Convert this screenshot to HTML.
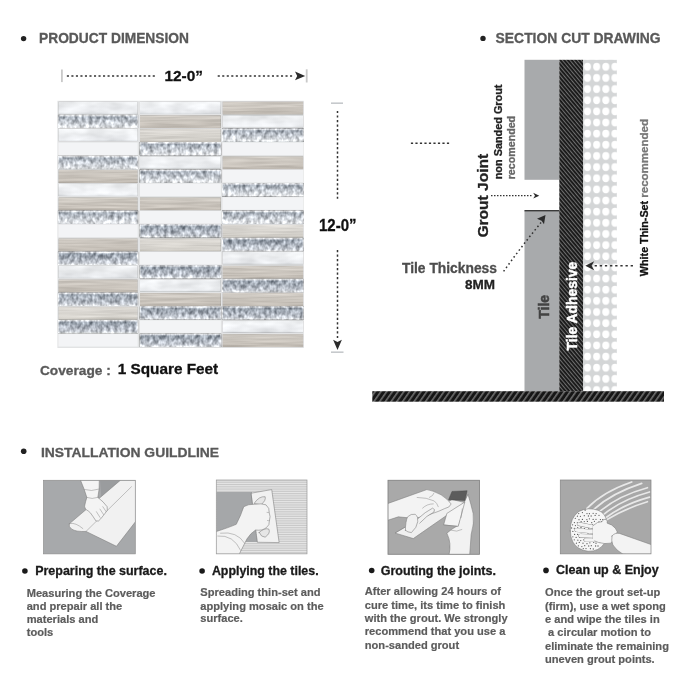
<!DOCTYPE html>
<html lang="en"><head><meta charset="utf-8"><title>Product Dimension &amp; Installation Guideline</title>
<style>html,body{margin:0;padding:0;background:#fff;}svg{display:block;will-change:transform;font-family:'Liberation Sans', sans-serif;}</style></head><body>
<svg width="700" height="700" viewBox="0 0 700 700">
<defs>
<pattern id="hatchA" width="2.9" height="8" patternUnits="userSpaceOnUse" patternTransform="rotate(-40)"><rect width="2.9" height="8" fill="#161616"/><rect x="0" width="1.1" height="8" fill="#6e6e6e"/></pattern>
<pattern id="hatchF" width="4.7" height="8" patternUnits="userSpaceOnUse" patternTransform="rotate(35)"><rect width="4.7" height="8" fill="#161616"/><rect x="0" width="1.6" height="8" fill="#6e6e6e"/></pattern>
<pattern id="dots" x="582.9" y="61.23" width="9.17" height="11.146" patternUnits="userSpaceOnUse"><rect width="9.17" height="11.146" fill="#d4d6d7"/><ellipse cx="4.58" cy="5.57" rx="3.55" ry="3.85" fill="#fff"/></pattern>
</defs>
<rect width="700" height="700" fill="#fff"/>
<circle cx="23.6" cy="38.6" r="2.7" fill="#222"/>
<text x="39" y="43" font-size="13.8" font-weight="bold" fill="#595959" stroke="#595959" stroke-width="0.3" textLength="150" lengthAdjust="spacingAndGlyphs">PRODUCT DIMENSION</text>
<circle cx="483" cy="38.4" r="2.7" fill="#222"/>
<text x="495.6" y="43" font-size="13.8" font-weight="bold" fill="#595959" stroke="#595959" stroke-width="0.3" textLength="165" lengthAdjust="spacingAndGlyphs">SECTION CUT DRAWING</text>
<circle cx="23.7" cy="451.2" r="2.8" fill="#222"/>
<text x="40.9" y="457.3" font-size="13.7" font-weight="bold" fill="#595959" stroke="#595959" stroke-width="0.3" textLength="178.2" lengthAdjust="spacingAndGlyphs">INSTALLATION GUILDLINE</text>
<rect x="61" y="69.5" width="1.8" height="12.6" fill="#c9c9c9"/>
<rect x="305.8" y="69.3" width="1.8" height="13.2" fill="#c9c9c9"/>
<line x1="66.85" y1="75.95" x2="155" y2="75.95" stroke="#333" stroke-width="1.5" stroke-dasharray="2.1 2.42"/>
<line x1="217.7" y1="75.95" x2="294.6" y2="75.95" stroke="#333" stroke-width="1.5" stroke-dasharray="2.1 2.42"/>
<path d="M305.2 75.9 L295 71.5 L297.2 75.9 L295 80.3 Z" fill="#2b2b2b"/>
<text x="164.5" y="80.6" font-size="15" font-weight="bold" fill="#111" stroke="#111" stroke-width="0.3" textLength="38.5" lengthAdjust="spacingAndGlyphs">12-0”</text>
<rect x="331" y="102.4" width="12" height="1.6" fill="#c6c9cc"/>
<rect x="331" y="351.4" width="12.5" height="1.6" fill="#c6c9cc"/>
<line x1="337.5" y1="110.9" x2="337.5" y2="198.8" stroke="#333" stroke-width="1.5" stroke-dasharray="2.2 2.32"/>
<line x1="337.5" y1="250" x2="337.5" y2="340" stroke="#333" stroke-width="1.5" stroke-dasharray="2.2 2.32"/>
<path d="M337.5 350 L333.1 339.8 L337.5 342 L341.9 339.8 Z" fill="#2b2b2b"/>
<text x="319" y="230.9" font-size="16" font-weight="bold" fill="#111" stroke="#111" stroke-width="0.3" textLength="37.5" lengthAdjust="spacingAndGlyphs">12-0”</text>
<text x="39.9" y="374.7" font-size="13.7" font-weight="bold" fill="#595959" stroke="#595959" stroke-width="0.3" textLength="70.9" lengthAdjust="spacingAndGlyphs">Coverage :</text>
<text x="117.7" y="374.2" font-size="15.3" font-weight="bold" fill="#111" stroke="#111" stroke-width="0.3" textLength="100.5" lengthAdjust="spacingAndGlyphs">1 Square Feet</text>
<defs>
<filter id="fG" filterUnits="userSpaceOnUse" x="56" y="99" width="250" height="252" color-interpolation-filters="sRGB"><feTurbulence type="fractalNoise" baseFrequency="0.28 0.2" numOctaves="2" seed="11" result="n"/><feColorMatrix in="n" type="matrix" values="1 0 0 0 0  1 0 0 0 0  1 0 0 0 0  0 0 0 0 1" result="g"/><feComposite in="SourceGraphic" in2="g" operator="arithmetic" k1="0" k2="1" k3="0.72" k4="-0.37" result="c"/><feComposite in="c" in2="SourceGraphic" operator="in"/></filter>
<filter id="fW" filterUnits="userSpaceOnUse" x="56" y="99" width="250" height="252" color-interpolation-filters="sRGB"><feTurbulence type="fractalNoise" baseFrequency="0.035 0.09" numOctaves="3" seed="5" result="n"/><feColorMatrix in="n" type="matrix" values="1 0 0 0 0  1 0 0 0 0  1 0 0 0 0  0 0 0 0 1" result="g"/><feComposite in="SourceGraphic" in2="g" operator="arithmetic" k1="0" k2="1" k3="0.22" k4="-0.115" result="c"/><feComposite in="c" in2="SourceGraphic" operator="in"/></filter>
<filter id="fB" filterUnits="userSpaceOnUse" x="56" y="99" width="250" height="252" color-interpolation-filters="sRGB"><feTurbulence type="fractalNoise" baseFrequency="0.02 0.45" numOctaves="2" seed="9" result="n"/><feColorMatrix in="n" type="matrix" values="1 0 0 0 0  1 0 0 0 0  1 0 0 0 0  0 0 0 0 1" result="g"/><feComposite in="SourceGraphic" in2="g" operator="arithmetic" k1="0" k2="1" k3="0.2" k4="-0.10" result="c"/><feComposite in="c" in2="SourceGraphic" operator="in"/></filter>
<linearGradient id="gG1" x1="0" y1="0" x2="0" y2="1"><stop offset="0" stop-color="#e9ebee"/><stop offset="0.16" stop-color="#a4acb6"/><stop offset="0.42" stop-color="#bec4cc"/><stop offset="0.78" stop-color="#dadee3"/><stop offset="1" stop-color="#eceef1"/></linearGradient>
<linearGradient id="gG2" x1="0" y1="0" x2="0" y2="1"><stop offset="0" stop-color="#dcdfe4"/><stop offset="0.16" stop-color="#9aa3ae"/><stop offset="0.5" stop-color="#acb3bd"/><stop offset="0.85" stop-color="#c6cbd3"/><stop offset="1" stop-color="#e0e3e7"/></linearGradient>
<linearGradient id="gB" x1="0" y1="0" x2="0" y2="1"><stop offset="0" stop-color="#cfcac3"/><stop offset="0.8" stop-color="#c7c1b9"/><stop offset="1" stop-color="#b8b2aa"/></linearGradient>
<linearGradient id="gb" x1="0" y1="0" x2="0" y2="1"><stop offset="0" stop-color="#dbd8d3"/><stop offset="0.8" stop-color="#d4d1cb"/><stop offset="1" stop-color="#c3bfb8"/></linearGradient>
<linearGradient id="gW" x1="0" y1="0" x2="0" y2="1"><stop offset="0" stop-color="#f1f3f5"/><stop offset="0.85" stop-color="#eceef1"/><stop offset="1" stop-color="#d9dcdf"/></linearGradient>
</defs>
<g id="mosaic">
<rect x="57.4" y="100.8" width="246.4" height="247.2" fill="#e2e3e4"/>
<g><rect x="58.4" y="142.54" width="79.3" height="12.5" fill="#f3f4f6"/><rect x="58.4" y="224.62" width="79.3" height="12.5" fill="#f3f4f6"/><rect x="58.4" y="334.06" width="79.3" height="12.5" fill="#f3f4f6"/><rect x="140.0" y="183.58" width="80.9" height="12.5" fill="#f3f4f6"/><rect x="140.0" y="210.94" width="80.9" height="12.5" fill="#f3f4f6"/><rect x="140.0" y="251.98" width="80.9" height="12.5" fill="#f3f4f6"/><rect x="140.0" y="320.38" width="80.9" height="12.5" fill="#f3f4f6"/><rect x="222.5" y="142.54" width="80.8" height="12.5" fill="#f3f4f6"/><rect x="222.5" y="169.90" width="80.8" height="12.5" fill="#f3f4f6"/><rect x="222.5" y="197.26" width="80.8" height="12.5" fill="#f3f4f6"/></g>
<g filter="url(#fW)"><rect x="58.4" y="101.50" width="79.3" height="12.5" fill="url(#gW)"/><rect x="58.4" y="128.86" width="79.3" height="12.5" fill="url(#gW)"/><rect x="58.4" y="183.58" width="79.3" height="12.5" fill="url(#gW)"/><rect x="58.4" y="265.66" width="79.3" height="12.5" fill="url(#gW)"/><rect x="140.0" y="101.50" width="80.9" height="12.5" fill="url(#gW)"/><rect x="140.0" y="156.22" width="80.9" height="12.5" fill="url(#gW)"/><rect x="140.0" y="279.34" width="80.9" height="12.5" fill="url(#gW)"/><rect x="222.5" y="115.18" width="80.8" height="12.5" fill="url(#gW)"/><rect x="222.5" y="251.98" width="80.8" height="12.5" fill="url(#gW)"/><rect x="222.5" y="320.38" width="80.8" height="12.5" fill="url(#gW)"/></g>
<g filter="url(#fB)"><rect x="58.4" y="169.90" width="79.3" height="13.1" fill="url(#gB)"/><rect x="58.4" y="197.26" width="79.3" height="13.1" fill="url(#gB)"/><rect x="58.4" y="238.30" width="79.3" height="13.1" fill="url(#gB)"/><rect x="58.4" y="279.34" width="79.3" height="13.1" fill="url(#gB)"/><rect x="58.4" y="306.70" width="79.3" height="13.1" fill="url(#gb)"/><rect x="140.0" y="115.18" width="80.9" height="13.1" fill="url(#gB)"/><rect x="140.0" y="128.86" width="80.9" height="13.1" fill="url(#gb)"/><rect x="140.0" y="197.26" width="80.9" height="13.1" fill="url(#gB)"/><rect x="140.0" y="238.30" width="80.9" height="13.1" fill="url(#gb)"/><rect x="140.0" y="293.02" width="80.9" height="13.1" fill="url(#gB)"/><rect x="222.5" y="101.50" width="80.8" height="13.1" fill="url(#gB)"/><rect x="222.5" y="156.22" width="80.8" height="13.1" fill="url(#gB)"/><rect x="222.5" y="224.62" width="80.8" height="13.1" fill="url(#gb)"/><rect x="222.5" y="265.66" width="80.8" height="13.1" fill="url(#gB)"/><rect x="222.5" y="293.02" width="80.8" height="13.1" fill="url(#gB)"/><rect x="222.5" y="334.06" width="80.8" height="13.1" fill="url(#gB)"/></g>
<g filter="url(#fG)"><rect x="58.4" y="115.18" width="79.3" height="12.5" fill="url(#gG1)" stroke="#e4e7ea" stroke-width="1"/><rect x="58.4" y="156.22" width="79.3" height="12.5" fill="url(#gG1)" stroke="#e4e7ea" stroke-width="1"/><rect x="58.4" y="210.94" width="79.3" height="12.5" fill="url(#gG1)" stroke="#e4e7ea" stroke-width="1"/><rect x="58.4" y="251.98" width="79.3" height="12.5" fill="url(#gG2)" stroke="#e4e7ea" stroke-width="1"/><rect x="58.4" y="293.02" width="79.3" height="12.5" fill="url(#gG2)" stroke="#e4e7ea" stroke-width="1"/><rect x="58.4" y="320.38" width="79.3" height="12.5" fill="url(#gG2)" stroke="#e4e7ea" stroke-width="1"/><rect x="140.0" y="142.54" width="80.9" height="12.5" fill="url(#gG1)" stroke="#e4e7ea" stroke-width="1"/><rect x="140.0" y="169.90" width="80.9" height="12.5" fill="url(#gG1)" stroke="#e4e7ea" stroke-width="1"/><rect x="140.0" y="224.62" width="80.9" height="12.5" fill="url(#gG2)" stroke="#e4e7ea" stroke-width="1"/><rect x="140.0" y="265.66" width="80.9" height="12.5" fill="url(#gG2)" stroke="#e4e7ea" stroke-width="1"/><rect x="140.0" y="306.70" width="80.9" height="12.5" fill="url(#gG2)" stroke="#e4e7ea" stroke-width="1"/><rect x="140.0" y="334.06" width="80.9" height="12.5" fill="url(#gG2)" stroke="#e4e7ea" stroke-width="1"/><rect x="222.5" y="128.86" width="80.8" height="12.5" fill="url(#gG1)" stroke="#e4e7ea" stroke-width="1"/><rect x="222.5" y="183.58" width="80.8" height="12.5" fill="url(#gG1)" stroke="#e4e7ea" stroke-width="1"/><rect x="222.5" y="210.94" width="80.8" height="12.5" fill="url(#gG1)" stroke="#e4e7ea" stroke-width="1"/><rect x="222.5" y="238.30" width="80.8" height="12.5" fill="url(#gG2)" stroke="#e4e7ea" stroke-width="1"/><rect x="222.5" y="279.34" width="80.8" height="12.5" fill="url(#gG2)" stroke="#e4e7ea" stroke-width="1"/><rect x="222.5" y="306.70" width="80.8" height="12.5" fill="url(#gG2)" stroke="#e4e7ea" stroke-width="1"/></g>
</g>
<g id="section">
<rect x="524.5" y="59.8" width="34.9" height="120" fill="#a8aaac"/>
<rect x="524.5" y="210.4" width="35" height="180.6" fill="#a8aaac"/>
<rect x="524.5" y="210" width="35" height="1.4" fill="#3a3a3a"/>
<rect x="559.3" y="59.8" width="23.7" height="331.4" fill="url(#hatchA)"/>
<rect x="583" y="59.8" width="33.8" height="331.1" fill="url(#dots)"/>
<rect x="372.3" y="391.2" width="291.7" height="10.5" fill="url(#hatchF)"/>
<line x1="410.9" y1="143.2" x2="449.4" y2="143.2" stroke="#333" stroke-width="1.5" stroke-dasharray="2.2 2.3"/>
<line x1="491" y1="195.7" x2="533" y2="195.7" stroke="#333" stroke-width="1.3" stroke-dasharray="1.5 1.5"/>
<path d="M539.3 195.7 L533.2 192.8 L535 195.7 L533.2 198.6 Z" fill="#2b2b2b"/>
<path d="M503.6 271.4 Q521 247 541 222.6" fill="none" stroke="#333" stroke-width="1.5" stroke-dasharray="1.6 2.7"/>
<path d="M545.5 215.1 L537.0 218.8 L541.6 220.8 L544.0 224.2 Z" fill="#2b2b2b"/>
<line x1="594.6" y1="265.7" x2="634" y2="265.7" stroke="#333" stroke-width="1.4" stroke-dasharray="2.3 2.85"/>
<path d="M585.3 265.7 L594.2 261.2 L591.6 265.7 L594.2 270.2 Z" fill="#2b2b2b"/>
<text transform="translate(488.0 237.6) rotate(-90)" font-size="15.3" font-weight="bold" fill="#222" stroke="#222" stroke-width="0.3" textLength="83.8" lengthAdjust="spacingAndGlyphs">Grout Joint</text>
<text transform="translate(502.2 179.3) rotate(-90)" font-size="10.9" font-weight="bold" fill="#222" stroke="#222" stroke-width="0.3" textLength="94.8" lengthAdjust="spacingAndGlyphs">non Sanded Grout</text>
<text transform="translate(515.4 179.3) rotate(-90)" font-size="10.6" font-weight="bold" fill="#666" stroke="#666" stroke-width="0.3" textLength="63.4" lengthAdjust="spacingAndGlyphs">recomended</text>
<text x="402" y="273" font-size="13.8" font-weight="bold" fill="#4d4d4d" stroke="#4d4d4d" stroke-width="0.3" textLength="95" lengthAdjust="spacingAndGlyphs">Tile Thickness</text>
<text x="465" y="289" font-size="13.5" font-weight="bold" fill="#222" stroke="#222" stroke-width="0.3" textLength="30" lengthAdjust="spacingAndGlyphs">8MM</text>
<text transform="translate(548.8 318.8) rotate(-90)" font-size="14" font-weight="bold" fill="#434343" stroke="#434343" stroke-width="0.55" textLength="24" lengthAdjust="spacingAndGlyphs">Tile</text>
<text transform="translate(576.9 350.4) rotate(-90)" font-size="13.8" font-weight="bold" fill="#fff" stroke="#fff" stroke-width="0.5" textLength="88.6" lengthAdjust="spacingAndGlyphs">Tile Adhesive</text>
<text transform="translate(647.5 276.2) rotate(-90)" font-size="10.9" font-weight="bold" fill="#111" stroke="#111" stroke-width="0.3" textLength="75.4" lengthAdjust="spacingAndGlyphs">White Thin-Set</text>
<text transform="translate(647.5 197.7) rotate(-90)" font-size="10.9" font-weight="bold" fill="#777" stroke="#777" stroke-width="0.3" textLength="78.7" lengthAdjust="spacingAndGlyphs">recommended</text>
</g>
<g id="img1" transform="translate(40 476) scale(0.142857)">
<rect x="25" y="30" width="642" height="515" fill="#a7a9ab"/>
<clipPath id="c1"><rect x="25" y="30" width="642" height="515"/></clipPath>
<g clip-path="url(#c1)">
<path d="M420 30 L565 30 L430 150 Z" fill="#9a9c9e"/>
<path d="M205 335 L565 28 L680 28 L680 305 L535 492 L322 388 Q255 392 222 372 Q198 355 205 335 Z" fill="#f1f1f1" stroke="#7d7d7d" stroke-width="4" stroke-linejoin="round" stroke-linecap="round"/>
<path d="M322 388 L640 75" fill="none" stroke="#8a8a8a" stroke-width="3.5" stroke-linecap="round" stroke-linejoin="round"/>
<path d="M212 332 Q250 325 300 368" fill="none" stroke="#8a8a8a" stroke-width="3.5" stroke-linecap="round" stroke-linejoin="round"/>
<path d="M283 28 L415 28 Q418 90 405 150 Q445 180 470 215 Q480 240 455 262 L425 300 Q410 322 392 315 L372 285 Q350 250 338 245 Q312 235 312 212 Q318 180 328 150 Q310 90 283 28 Z" fill="#f4f4f4" stroke="#7d7d7d" stroke-width="4" stroke-linejoin="round" stroke-linecap="round"/>
<path d="M312 95 Q360 110 412 92" fill="none" stroke="#8a8a8a" stroke-width="3.5" stroke-linecap="round" stroke-linejoin="round"/><path d="M326 150 Q365 165 405 150" fill="none" stroke="#8a8a8a" stroke-width="3.5" stroke-linecap="round" stroke-linejoin="round"/>
<path d="M395 250 L420 290" fill="none" stroke="#8a8a8a" stroke-width="3.5" stroke-linecap="round" stroke-linejoin="round"/><path d="M420 232 L445 270" fill="none" stroke="#8a8a8a" stroke-width="3.5" stroke-linecap="round" stroke-linejoin="round"/><path d="M440 215 L462 248" fill="none" stroke="#8a8a8a" stroke-width="3.5" stroke-linecap="round" stroke-linejoin="round"/>
</g>
<rect x="25" y="30" width="642" height="515" fill="none" stroke="#8e8e8e" stroke-width="5"/>
</g>
<g id="img2" transform="translate(212 476) scale(0.142857)">
<defs><pattern id="comb" width="20" height="12.5" patternUnits="userSpaceOnUse"><rect width="20" height="12.5" fill="#e6e6e6"/><rect y="7.5" width="20" height="5" fill="#bfbfbf"/></pattern></defs>
<rect x="30" y="28" width="635" height="517" fill="url(#comb)"/>
<clipPath id="c2"><rect x="30" y="28" width="635" height="517"/></clipPath>
<g clip-path="url(#c2)">
<path d="M30 112 L280 112 L300 330 L318 462 L210 462 L235 395 Q150 350 30 388 Z" fill="#a5a7a9"/>
<path d="M276 120 L418 95 L470 466 L320 464 Z" fill="#f1f1f1" stroke="#7d7d7d" stroke-width="4" stroke-linejoin="round" stroke-linecap="round"/>
<path d="M296 190 Q330 140 372 145 Q380 170 345 200 Z" fill="#e6e6e6" stroke="#7d7d7d" stroke-width="4" stroke-linejoin="round" stroke-linecap="round"/>
<path d="M330 395 Q370 360 398 372 Q412 400 372 428 Q345 430 330 395 Z" fill="#e6e6e6" stroke="#7d7d7d" stroke-width="4" stroke-linejoin="round" stroke-linecap="round"/>
<path d="M20 392 Q120 360 170 338 Q205 270 222 215 Q255 195 300 198 Q345 190 378 202 Q405 225 400 255 Q412 285 402 312 Q405 345 380 362 Q350 385 305 378 Q270 400 245 440 L190 548 L20 548 Z" fill="#f3f3f3" stroke="#7d7d7d" stroke-width="4" stroke-linejoin="round" stroke-linecap="round"/>
<path d="M40 420 Q150 410 200 520" fill="none" stroke="#8a8a8a" stroke-width="3.5" stroke-linecap="round" stroke-linejoin="round"/><path d="M60 400 Q175 385 228 470" fill="none" stroke="#8a8a8a" stroke-width="3.5" stroke-linecap="round" stroke-linejoin="round"/>
<path d="M385 255 Q398 258 400 255" fill="none" stroke="#8a8a8a" stroke-width="3.5" stroke-linecap="round" stroke-linejoin="round"/><path d="M388 312 Q398 314 402 312" fill="none" stroke="#8a8a8a" stroke-width="3.5" stroke-linecap="round" stroke-linejoin="round"/>
</g>
<rect x="30" y="28" width="635" height="517" fill="none" stroke="#9a9a9a" stroke-width="5"/>
</g>
<g id="img3" transform="translate(384 476) scale(0.142857)">
<rect x="28" y="30" width="640" height="518" fill="#a9a9a9"/>
<clipPath id="c3"><rect x="28" y="30" width="640" height="518"/></clipPath>
<g clip-path="url(#c3)">
<path d="M80 400 L205 438 L568 186 L478 165 Z" fill="#f0f0f0" stroke="#7d7d7d" stroke-width="4" stroke-linejoin="round" stroke-linecap="round"/>
<path d="M455 552 Q475 470 440 400 Q470 372 520 345 L548 215 L588 128 Q610 200 624 262 Q634 330 610 410 L600 552 Z" fill="#f2f2f2" stroke="#7d7d7d" stroke-width="4" stroke-linejoin="round" stroke-linecap="round"/>
<path d="M418 340 L440 262 L566 182 L520 350 Z" fill="#f4f4f4" stroke="#7d7d7d" stroke-width="4" stroke-linejoin="round" stroke-linecap="round"/>
<path d="M452 166 L476 108 L582 103 L566 172 Z" fill="#5c5c5c" stroke="#444" stroke-width="3"/>
<path d="M20 195 L300 95 Q340 100 400 132 Q450 165 470 196 Q460 222 425 228 Q380 250 340 262 Q290 285 235 292 Q170 296 100 286 L20 312 Z" fill="#f3f3f3" stroke="#7d7d7d" stroke-width="4" stroke-linejoin="round" stroke-linecap="round"/>
<path d="M150 380 Q150 320 165 286 Q190 262 218 268 Q242 285 236 320 Q232 360 192 396 Q165 395 150 380 Z" fill="#f1f1f1" stroke="#7d7d7d" stroke-width="4" stroke-linejoin="round" stroke-linecap="round"/>
<path d="M236 300 Q290 250 340 225 Q362 232 350 252 Q300 275 250 330" fill="#f1f1f1" stroke="#7d7d7d" stroke-width="4" stroke-linejoin="round" stroke-linecap="round"/>
<path d="M232 150 Q300 150 352 175 Q372 190 380 215" fill="none" stroke="#8a8a8a" stroke-width="3.5" stroke-linecap="round" stroke-linejoin="round"/><path d="M318 150 Q345 140 350 120" fill="none" stroke="#8a8a8a" stroke-width="3.5" stroke-linecap="round" stroke-linejoin="round"/><path d="M270 225 Q300 195 345 195" fill="none" stroke="#8a8a8a" stroke-width="3.5" stroke-linecap="round" stroke-linejoin="round"/>
<path d="M470 380 Q510 395 545 375" fill="none" stroke="#8a8a8a" stroke-width="3.5" stroke-linecap="round" stroke-linejoin="round"/><path d="M548 230 L540 290" fill="none" stroke="#8a8a8a" stroke-width="3.5" stroke-linecap="round" stroke-linejoin="round"/>
</g>
<rect x="28" y="30" width="640" height="518" fill="none" stroke="#808080" stroke-width="6"/>
</g>
<g id="img4" transform="translate(556 476) scale(0.142857)">
<rect x="30" y="28" width="635" height="517" fill="#a8a8a8"/>
<clipPath id="c4"><rect x="30" y="28" width="635" height="517"/></clipPath>
<g clip-path="url(#c4)">
<path d="M215 228 Q330 110 530 42" fill="none" stroke="#e8e8e8" stroke-width="12" stroke-linecap="round"/>
<path d="M262 236 Q390 120 600 52" fill="none" stroke="#e8e8e8" stroke-width="12" stroke-linecap="round"/>
<path d="M305 250 Q430 140 640 82" fill="none" stroke="#e8e8e8" stroke-width="12" stroke-linecap="round"/>
<path d="M330 272 Q460 165 655 112" fill="none" stroke="#e8e8e8" stroke-width="12" stroke-linecap="round"/>
<path d="M348 292 Q480 195 655 148" fill="none" stroke="#e8e8e8" stroke-width="12" stroke-linecap="round"/>
<path d="M358 305 Q490 225 640 180" fill="none" stroke="#e8e8e8" stroke-width="12" stroke-linecap="round"/>
<path d="M100 385 Q96 295 160 248 Q225 215 295 240 Q350 262 354 320 Q350 400 340 470 Q300 530 225 527 Q150 518 118 462 Q100 425 100 385 Z" fill="#f6f6f6" stroke="#7d7d7d" stroke-width="4" stroke-linejoin="round" stroke-linecap="round"/>
<g fill="#5e5e5e"><circle cx="204" cy="239" r="4.6"/><circle cx="159" cy="263" r="4.6"/><circle cx="185" cy="256" r="4.6"/><circle cx="217" cy="263" r="4.6"/><circle cx="234" cy="264" r="4.6"/><circle cx="260" cy="261" r="4.6"/><circle cx="281" cy="263" r="4.6"/><circle cx="150" cy="281" r="4.6"/><circle cx="171" cy="282" r="4.6"/><circle cx="198" cy="278" r="4.6"/><circle cx="227" cy="280" r="4.6"/><circle cx="246" cy="280" r="4.6"/><circle cx="274" cy="276" r="4.6"/><circle cx="301" cy="275" r="4.6"/><circle cx="135" cy="296" r="4.6"/><circle cx="161" cy="306" r="4.6"/><circle cx="185" cy="304" r="4.6"/><circle cx="216" cy="305" r="4.6"/><circle cx="234" cy="300" r="4.6"/><circle cx="260" cy="304" r="4.6"/><circle cx="280" cy="303" r="4.6"/><circle cx="311" cy="305" r="4.6"/><circle cx="327" cy="305" r="4.6"/><circle cx="129" cy="326" r="4.6"/><circle cx="150" cy="326" r="4.6"/><circle cx="176" cy="320" r="4.6"/><circle cx="198" cy="319" r="4.6"/><circle cx="220" cy="318" r="4.6"/><circle cx="250" cy="327" r="4.6"/><circle cx="269" cy="317" r="4.6"/><circle cx="301" cy="322" r="4.6"/><circle cx="319" cy="319" r="4.6"/><circle cx="116" cy="342" r="4.6"/><circle cx="136" cy="347" r="4.6"/><circle cx="159" cy="343" r="4.6"/><circle cx="191" cy="339" r="4.6"/><circle cx="214" cy="347" r="4.6"/><circle cx="237" cy="346" r="4.6"/><circle cx="256" cy="342" r="4.6"/><circle cx="280" cy="346" r="4.6"/><circle cx="306" cy="343" r="4.6"/><circle cx="337" cy="347" r="4.6"/><circle cx="109" cy="364" r="4.6"/><circle cx="128" cy="366" r="4.6"/><circle cx="152" cy="362" r="4.6"/><circle cx="175" cy="360" r="4.6"/><circle cx="199" cy="369" r="4.6"/><circle cx="229" cy="365" r="4.6"/><circle cx="248" cy="362" r="4.6"/><circle cx="268" cy="362" r="4.6"/><circle cx="299" cy="368" r="4.6"/><circle cx="319" cy="367" r="4.6"/><circle cx="118" cy="388" r="4.6"/><circle cx="139" cy="387" r="4.6"/><circle cx="162" cy="385" r="4.6"/><circle cx="191" cy="387" r="4.6"/><circle cx="210" cy="389" r="4.6"/><circle cx="237" cy="386" r="4.6"/><circle cx="255" cy="385" r="4.6"/><circle cx="282" cy="387" r="4.6"/><circle cx="308" cy="388" r="4.6"/><circle cx="333" cy="388" r="4.6"/><circle cx="130" cy="409" r="4.6"/><circle cx="151" cy="409" r="4.6"/><circle cx="180" cy="408" r="4.6"/><circle cx="205" cy="411" r="4.6"/><circle cx="224" cy="406" r="4.6"/><circle cx="245" cy="409" r="4.6"/><circle cx="276" cy="406" r="4.6"/><circle cx="298" cy="408" r="4.6"/><circle cx="322" cy="403" r="4.6"/><circle cx="118" cy="426" r="4.6"/><circle cx="141" cy="430" r="4.6"/><circle cx="165" cy="429" r="4.6"/><circle cx="183" cy="424" r="4.6"/><circle cx="211" cy="429" r="4.6"/><circle cx="233" cy="429" r="4.6"/><circle cx="261" cy="422" r="4.6"/><circle cx="284" cy="424" r="4.6"/><circle cx="304" cy="423" r="4.6"/><circle cx="330" cy="424" r="4.6"/><circle cx="128" cy="447" r="4.6"/><circle cx="153" cy="449" r="4.6"/><circle cx="173" cy="452" r="4.6"/><circle cx="195" cy="447" r="4.6"/><circle cx="222" cy="447" r="4.6"/><circle cx="244" cy="451" r="4.6"/><circle cx="271" cy="443" r="4.6"/><circle cx="297" cy="444" r="4.6"/><circle cx="320" cy="446" r="4.6"/><circle cx="143" cy="470" r="4.6"/><circle cx="163" cy="465" r="4.6"/><circle cx="189" cy="470" r="4.6"/><circle cx="217" cy="474" r="4.6"/><circle cx="237" cy="468" r="4.6"/><circle cx="264" cy="464" r="4.6"/><circle cx="280" cy="470" r="4.6"/><circle cx="309" cy="465" r="4.6"/><circle cx="157" cy="489" r="4.6"/><circle cx="181" cy="494" r="4.6"/><circle cx="201" cy="488" r="4.6"/><circle cx="229" cy="490" r="4.6"/><circle cx="247" cy="488" r="4.6"/><circle cx="277" cy="490" r="4.6"/><circle cx="294" cy="490" r="4.6"/><circle cx="191" cy="508" r="4.6"/><circle cx="210" cy="508" r="4.6"/><circle cx="241" cy="509" r="4.6"/><circle cx="261" cy="511" r="4.6"/></g>
<path d="M285 362 L160 336" fill="none" stroke="#858585" stroke-width="29" stroke-linecap="round"/>
<path d="M285 362 L160 336" fill="none" stroke="#f4f4f4" stroke-width="23" stroke-linecap="round"/>
<path d="M280 392 L143 378" fill="none" stroke="#858585" stroke-width="29" stroke-linecap="round"/>
<path d="M280 392 L143 378" fill="none" stroke="#f4f4f4" stroke-width="23" stroke-linecap="round"/>
<path d="M285 422 L170 418" fill="none" stroke="#858585" stroke-width="29" stroke-linecap="round"/>
<path d="M285 422 L170 418" fill="none" stroke="#f4f4f4" stroke-width="23" stroke-linecap="round"/>
<path d="M290 448 L208 448" fill="none" stroke="#858585" stroke-width="29" stroke-linecap="round"/>
<path d="M290 448 L208 448" fill="none" stroke="#f4f4f4" stroke-width="23" stroke-linecap="round"/>
<path d="M262 345 Q290 318 322 320 Q332 296 350 304 Q364 312 358 330 Q392 338 415 365 Q435 390 425 408 Q405 440 385 470 Q340 478 300 466 Q262 458 260 440 Z" fill="#f4f4f4" stroke="#7d7d7d" stroke-width="4" stroke-linejoin="round" stroke-linecap="round"/>
<path d="M266 350 L266 452" stroke="#f4f4f4" stroke-width="14" fill="none"/>
<path d="M392 420 Q410 395 445 402 L680 485 L680 560 L470 548 Q420 520 398 482 Q385 450 392 420 Z" fill="#f3f3f3" stroke="#7d7d7d" stroke-width="4" stroke-linejoin="round" stroke-linecap="round"/>
</g>
<rect x="30" y="28" width="635" height="517" fill="none" stroke="#858585" stroke-width="5"/>
</g>
<circle cx="24.9" cy="571" r="2.8" fill="#1a1a1a"/>
<text x="35.2" y="575.1" font-size="12.5" font-weight="bold" fill="#1a1a1a" stroke="#1a1a1a" stroke-width="0.3" textLength="131.7" lengthAdjust="spacingAndGlyphs">Preparing the surface.</text>
<circle cx="202.1" cy="571" r="2.8" fill="#1a1a1a"/>
<text x="211.9" y="575" font-size="12.5" font-weight="bold" fill="#1a1a1a" stroke="#1a1a1a" stroke-width="0.3" textLength="106.7" lengthAdjust="spacingAndGlyphs">Applying the tiles.</text>
<circle cx="371.7" cy="570.5" r="2.8" fill="#1a1a1a"/>
<text x="380.7" y="574.8" font-size="12.5" font-weight="bold" fill="#1a1a1a" stroke="#1a1a1a" stroke-width="0.3" textLength="115.2" lengthAdjust="spacingAndGlyphs">Grouting the joints.</text>
<circle cx="546" cy="570.4" r="2.8" fill="#1a1a1a"/>
<text x="556" y="574.4" font-size="12.5" font-weight="bold" fill="#1a1a1a" stroke="#1a1a1a" stroke-width="0.3" textLength="102.7" lengthAdjust="spacingAndGlyphs">Clean up &amp; Enjoy</text>
<text x="26.7" y="596.9" font-size="11.1" font-weight="bold" fill="#5c5c5c" stroke="#5c5c5c" stroke-width="0.2" xml:space="preserve">Measuring the Coverage</text>
<text x="26.7" y="610.3" font-size="11.1" font-weight="bold" fill="#5c5c5c" stroke="#5c5c5c" stroke-width="0.2" xml:space="preserve">and prepair all the</text>
<text x="26.7" y="623.1" font-size="11.1" font-weight="bold" fill="#5c5c5c" stroke="#5c5c5c" stroke-width="0.2" xml:space="preserve">materials and</text>
<text x="26.7" y="636" font-size="11.1" font-weight="bold" fill="#5c5c5c" stroke="#5c5c5c" stroke-width="0.2" xml:space="preserve">tools</text>
<text x="200.3" y="596.1" font-size="11.1" font-weight="bold" fill="#5c5c5c" stroke="#5c5c5c" stroke-width="0.2" xml:space="preserve">Spreading thin-set and</text>
<text x="200.3" y="609.5" font-size="11.1" font-weight="bold" fill="#5c5c5c" stroke="#5c5c5c" stroke-width="0.2" xml:space="preserve">applying mosaic on the</text>
<text x="200.3" y="622.4" font-size="11.1" font-weight="bold" fill="#5c5c5c" stroke="#5c5c5c" stroke-width="0.2" xml:space="preserve">surface.</text>
<text x="364.8" y="595.4" font-size="11.1" font-weight="bold" fill="#5c5c5c" stroke="#5c5c5c" stroke-width="0.2" xml:space="preserve">After allowing 24 hours of</text>
<text x="364.8" y="608.6" font-size="11.1" font-weight="bold" fill="#5c5c5c" stroke="#5c5c5c" stroke-width="0.2" xml:space="preserve">cure time, its time to finish</text>
<text x="364.8" y="621.9" font-size="11.1" font-weight="bold" fill="#5c5c5c" stroke="#5c5c5c" stroke-width="0.2" xml:space="preserve">with the grout. We strongly</text>
<text x="364.8" y="635.2" font-size="11.1" font-weight="bold" fill="#5c5c5c" stroke="#5c5c5c" stroke-width="0.2" xml:space="preserve">recommend that you use a</text>
<text x="364.8" y="648.7" font-size="11.1" font-weight="bold" fill="#5c5c5c" stroke="#5c5c5c" stroke-width="0.2" xml:space="preserve">non-sanded grout</text>
<text x="545" y="596.3" font-size="11.1" font-weight="bold" fill="#5c5c5c" stroke="#5c5c5c" stroke-width="0.2" xml:space="preserve">Once the grout set-up</text>
<text x="545" y="609.6" font-size="11.1" font-weight="bold" fill="#5c5c5c" stroke="#5c5c5c" stroke-width="0.2" xml:space="preserve">(firm), use a wet spong</text>
<text x="545" y="623" font-size="11.1" font-weight="bold" fill="#5c5c5c" stroke="#5c5c5c" stroke-width="0.2" xml:space="preserve">e and wipe the tiles in</text>
<text x="545" y="636.3" font-size="11.1" font-weight="bold" fill="#5c5c5c" stroke="#5c5c5c" stroke-width="0.2" xml:space="preserve"> a circular motion to</text>
<text x="545" y="649.7" font-size="11.1" font-weight="bold" fill="#5c5c5c" stroke="#5c5c5c" stroke-width="0.2" xml:space="preserve">eliminate the remaining</text>
<text x="545" y="663" font-size="11.1" font-weight="bold" fill="#5c5c5c" stroke="#5c5c5c" stroke-width="0.2" xml:space="preserve">uneven grout points.</text>
</svg></body></html>
